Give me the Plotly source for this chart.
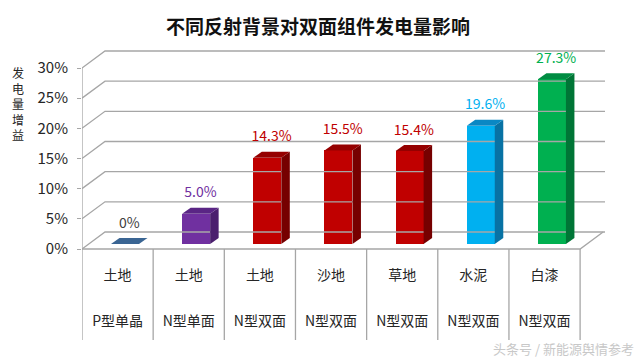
import plotly.graph_objects as go

# ---------------- data ----------------
backgrounds = ["土地", "土地", "土地", "沙地", "草地", "水泥", "白漆"]
modules = ["P型单晶", "N型单面", "N型双面", "N型双面", "N型双面", "N型双面", "N型双面"]
gain = [0.0, 5.0, 14.3, 15.5, 15.4, 19.6, 27.3]
value_labels = ["0%", "5.0%", "14.3%", "15.5%", "15.4%", "19.6%", "27.3%"]
y_ticks = [0, 5, 10, 15, 20, 25, 30]
y_tick_labels = ["0%", "5%", "10%", "15%", "20%", "25%", "30%"]

front_colors = ["#3A6593", "#7030A0", "#C00000", "#C00000", "#C00000", "#00B0F0", "#00B050"]
side_colors = ["#2D4F74", "#4B1F6E", "#760000", "#760000", "#760000", "#0872A4", "#007536"]
top_colors = ["#3A6593", "#5A2585", "#950000", "#950000", "#950000", "#0A88C4", "#008C42"]
label_colors = ["#404040", "#7030A0", "#C00000", "#C00000", "#C00000", "#00B0F0", "#00B050"]

# ---------------- geometry (pixels -> data units) ----------------
W, H = 640, 359
X0_PX = 82.0        # pixel of x = -0.5 (front left)
PXU = 71.143        # px per category
Y0_PX = 249.0       # pixel of y = 0 (front floor)
PYU = 6.033         # px per percent
TOP_PX = 40.0

X_MIN, X_MAX = -0.5, 6.85
plot_w = (X_MAX - X_MIN) * PXU
y_top = (Y0_PX - TOP_PX) / PYU
y_bot = -(H - Y0_PX) / PYU

WALL_DX = 23 / PXU
WALL_DY = 17 / PYU
BAR_OX = 7.4 / PXU
BAR_OY = 5 / PYU
BAR_W = 28 / PXU
BAR_DX = 8.5 / PXU
BAR_DY = 6 / PYU

GRID = "#A6A6A6"
FONT = "Noto Sans CJK SC"

fig = go.Figure()

# back wall / floor gridlines
for L in y_ticks:
    fig.add_trace(go.Scatter(
        x=[X_MIN, X_MIN + WALL_DX, X_MAX],
        y=[L, L + WALL_DY, L + WALL_DY],
        mode="lines", line=dict(color=GRID, width=1.3),
        hoverinfo="skip", showlegend=False))

n = len(gain)
# floor front edge and right edge
fig.add_trace(go.Scatter(
    x=[X_MIN, n - 0.5, n - 0.5 + WALL_DX],
    y=[0, 0, WALL_DY],
    mode="lines", line=dict(color=GRID, width=1.3),
    hoverinfo="skip", showlegend=False))

# front axis + table vertical lines
row1_y = -(276 - Y0_PX) / PYU
row2_y = -(322 - Y0_PX) / PYU
table_bottom = -(340 - Y0_PX) / PYU
fig.add_trace(go.Scatter(
    x=[X_MIN, X_MIN], y=[y_ticks[-1], table_bottom],
    mode="lines", line=dict(color=GRID, width=1.3),
    hoverinfo="skip", showlegend=False))
for k in range(1, n + 1):
    fig.add_trace(go.Scatter(
        x=[k - 0.5, k - 0.5], y=[0, table_bottom],
        mode="lines", line=dict(color=GRID, width=1.3),
        hoverinfo="skip", showlegend=False))

# bars: front faces
bar_x = [i + BAR_OX for i in range(n)]
fig.add_trace(go.Bar(
    x=bar_x, y=gain, base=BAR_OY, width=BAR_W,
    marker=dict(color=front_colors, line=dict(width=0)),
    hoverinfo="skip", showlegend=False))

# side and top faces
for i, v in enumerate(gain):
    xl = bar_x[i] - BAR_W / 2
    xr = bar_x[i] + BAR_W / 2
    y0 = BAR_OY
    yt = BAR_OY + v
    if v > 0:
        fig.add_trace(go.Scatter(
            x=[xr, xr, xr + BAR_DX, xr + BAR_DX, xr],
            y=[y0, yt, yt + BAR_DY, y0 + BAR_DY, y0],
            mode="lines", fill="toself", fillcolor=side_colors[i],
            line=dict(width=0, color=side_colors[i]),
            hoverinfo="skip", showlegend=False))
    fig.add_trace(go.Scatter(
        x=[xl, xr, xr + BAR_DX, xl + BAR_DX, xl],
        y=[yt, yt, yt + BAR_DY, yt + BAR_DY, yt],
        mode="lines", fill="toself", fillcolor=top_colors[i],
        line=dict(width=0, color=top_colors[i]),
        hoverinfo="skip", showlegend=False))

# value labels
LABEL_OFF = 20 / PYU
for i, v in enumerate(gain):
    fig.add_trace(go.Scatter(
        x=[bar_x[i] + BAR_DX / 2], y=[BAR_OY + v + LABEL_OFF],
        mode="text", text=[value_labels[i]], textposition="middle center",
        textfont=dict(family=FONT, size=14, color=label_colors[i]),
        hoverinfo="skip", showlegend=False))

# category table labels
fig.add_trace(go.Scatter(
    x=list(range(n)), y=[row1_y] * n, mode="text", text=backgrounds,
    textposition="middle center",
    textfont=dict(family=FONT, size=14, color="#262626"),
    hoverinfo="skip", showlegend=False))
fig.add_trace(go.Scatter(
    x=list(range(n)), y=[row2_y] * n, mode="text", text=modules,
    textposition="middle center",
    textfont=dict(family=FONT, size=14, color="#262626"),
    hoverinfo="skip", showlegend=False))

# y-axis title (stacked characters)
def px_to_paper_x(px):
    return (px - X0_PX) / plot_w

def px_to_paper_y(py):
    return 1 - (py - TOP_PX) / (H - TOP_PX)

ytitle = "发电量增益"
fig.add_annotation(
    x=px_to_paper_x(18), y=px_to_paper_y(103),
    xref="paper", yref="paper", text="<br>".join(ytitle), showarrow=False,
    xanchor="center", yanchor="middle",
    font=dict(family=FONT, size=12, color="#262626"))

# watermark
fig.add_annotation(
    x=px_to_paper_x(636), y=px_to_paper_y(348),
    xref="paper", yref="paper", text="头条号 / 新能源舆情参考",
    showarrow=False, xanchor="right", yanchor="middle",
    font=dict(family=FONT, size=13, color="#C8C8C8"))

fig.update_layout(
    width=W, height=H, autosize=False,
    paper_bgcolor="white", plot_bgcolor="white",
    margin=dict(l=X0_PX, r=W - X0_PX - plot_w, t=TOP_PX, b=0, pad=0),
    title=dict(text="<b>不同反射背景对双面组件发电量影响</b>",
               x=318 / W, xanchor="center", y=1 - 27 / H, yanchor="middle",
               font=dict(family=FONT, size=19, color="#111111")),
    bargap=0,
    xaxis=dict(range=[X_MIN, X_MAX], showgrid=False, zeroline=False,
               showticklabels=False, ticks="", showline=False, fixedrange=True),
    yaxis=dict(range=[y_bot, y_top], showgrid=False, zeroline=False,
               showline=False, tickvals=y_ticks, ticktext=y_tick_labels,
               ticks="outside", ticklen=4, tickcolor=GRID, tickwidth=1.3,
               ticklabelstandoff=6,
               tickfont=dict(family=FONT, size=15, color="#262626"),
               fixedrange=True),
)

fig.write_html("out.html", config={"displayModeBar": False},
               post_script="document.body.style.margin='0';document.body.style.overflow='hidden';")
